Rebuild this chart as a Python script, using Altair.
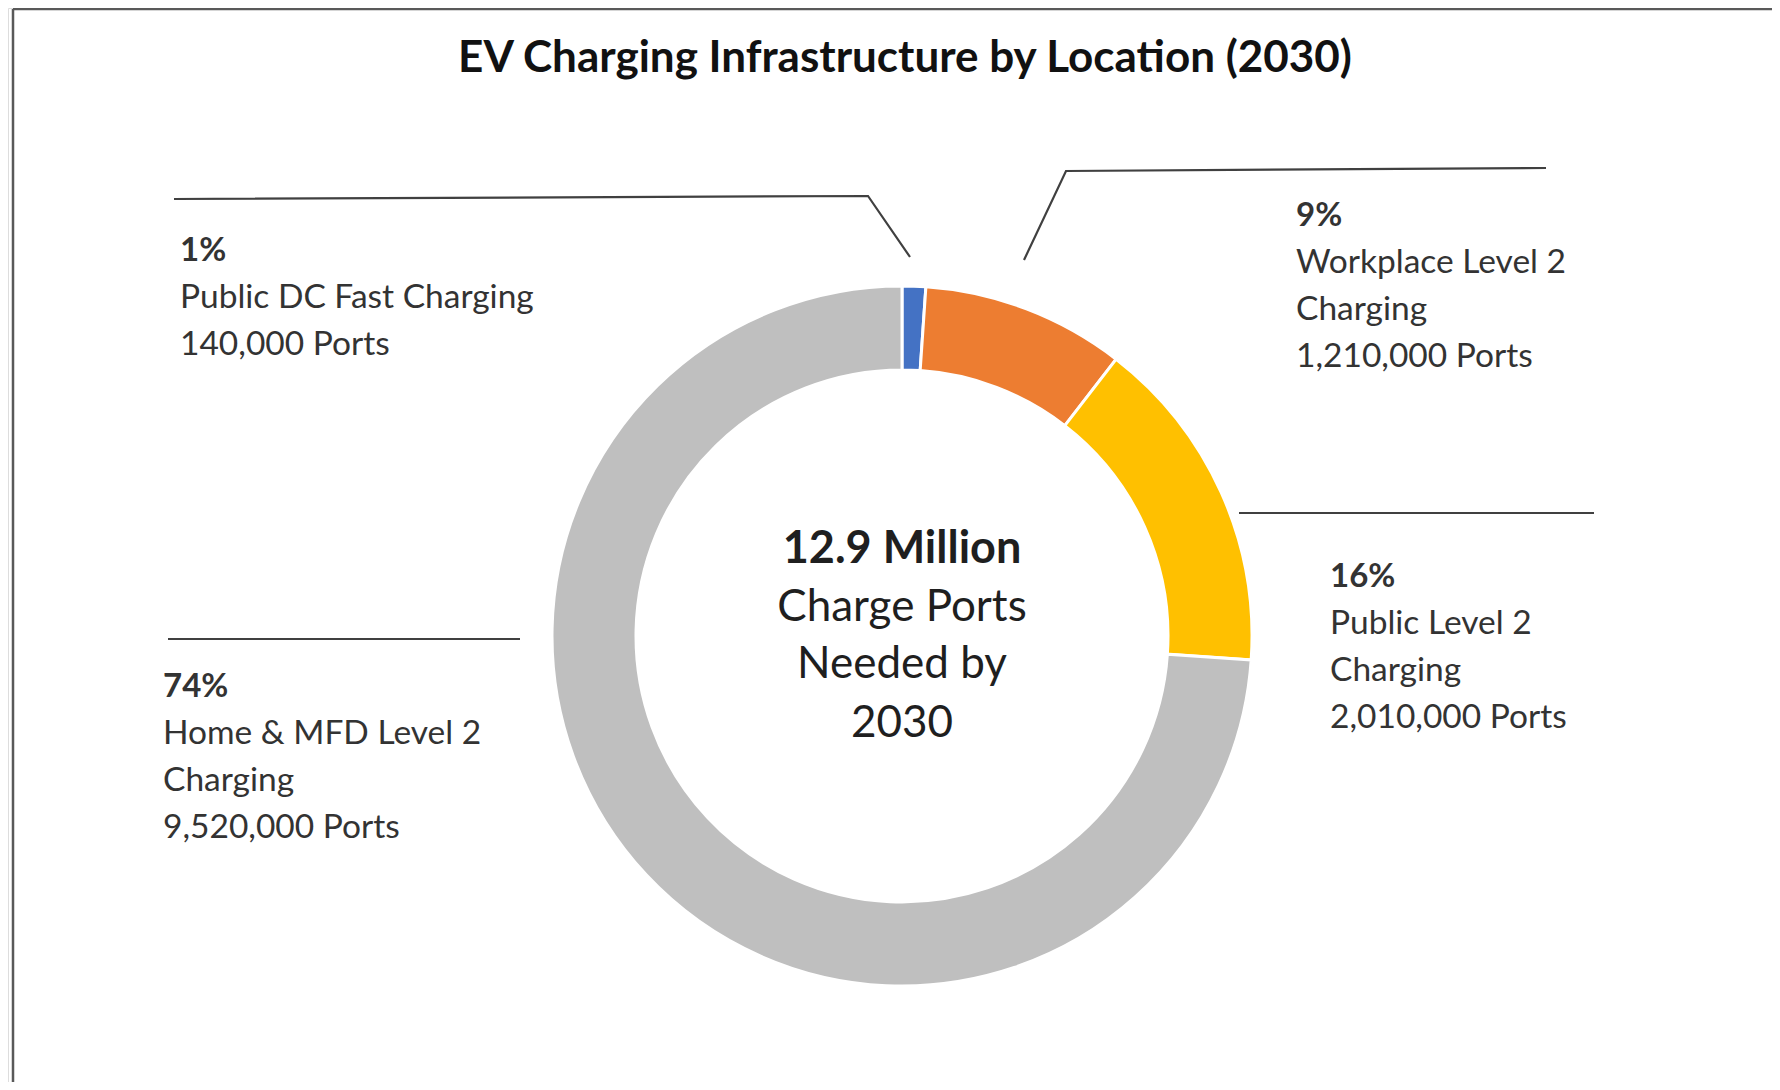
import altair as alt
import pandas as pd

# ---------------- data ----------------
categories = ["Public DC Fast Charging", "Workplace Level 2 Charging",
              "Public Level 2 Charging", "Home & MFD Level 2 Charging"]
ports = [140000, 1210000, 2010000, 9520000]
pct_labels = ["1%", "9%", "16%", "74%"]
label_names = [["Public DC Fast Charging"],
               ["Workplace Level 2", "Charging"],
               ["Public Level 2", "Charging"],
               ["Home & MFD Level 2", "Charging"]]
colors = ["#4472C4", "#ED7D31", "#FFC000", "#BFBFBF"]

title_text = "EV Charging Infrastructure by Location (2030)"
center_lines = ["Charge Ports", "Needed by", "2030"]

# ---------------- layout (page pixels) ----------------
W, H = 1764, 1074
center_xy = (902, 636)
inner_r, outer_r = 266, 350
label_x = [180, 1296, 1330, 163]
label_y = [251, 216, 577, 687]
line_gap = 47
leaders = [
    [(174, 199), (868, 196), (910, 257)],
    [(1024, 260), (1066, 171), (1546, 168)],
    [(1239, 513), (1594, 513)],
    [(168, 639), (520, 639)],
]
title_xy = (905, 59)
center_y = [549, 608, 665, 724]

FONT = "Lato"
TXT = "#333333"

xs = alt.Scale(domain=[8, 8 + W], range=[0, W])
ys = alt.Scale(domain=[8, 8 + H], range=[0, H])

# ---------------- tables ----------------
arc_df = pd.DataFrame({
    "cat": categories, "ports": ports, "order": list(range(4)),
    "cx": [center_xy[0]] * 4, "cy": [center_xy[1]] * 4,
})

leader_rows = []
for i, path in enumerate(leaders):
    for j, (px, py) in enumerate(path):
        leader_rows.append({"id": i, "k": j, "x": px, "y": py})
leader_df = pd.DataFrame(leader_rows)

bold_rows, norm_rows = [], []
for i in range(4):
    bold_rows.append({"x": label_x[i], "y": label_y[i], "t": pct_labels[i]})
    lines = label_names[i] + [f"{ports[i]:,} Ports"]
    for j, ln in enumerate(lines):
        norm_rows.append({"x": label_x[i], "y": label_y[i] + (j + 1) * line_gap, "t": ln})
bold_df = pd.DataFrame(bold_rows)
norm_df = pd.DataFrame(norm_rows)

total_m = sum(ports) / 1e6
center_bold_df = pd.DataFrame({"x": [center_xy[0]], "y": [center_y[0]],
                               "t": [f"{total_m:.1f} Million"]})
center_norm_df = pd.DataFrame({"x": [center_xy[0]] * 3, "y": center_y[1:],
                               "t": center_lines})
title_df = pd.DataFrame({"x": [title_xy[0]], "y": [title_xy[1]], "t": [title_text]})
frame_df = pd.DataFrame({"x": [13, 13], "y": [9, 9], "x2": [13, 8 + W], "y2": [8 + H, 9]})

# ---------------- marks ----------------
X = lambda f: alt.X(f, type="quantitative", scale=xs, axis=None)
Y = lambda f: alt.Y(f, type="quantitative", scale=ys, axis=None)

frame = alt.Chart(frame_df).mark_rule(color="#595959", strokeWidth=2.5).encode(
    x=X("x"), y=Y("y"), x2="x2", y2="y2")

donut = alt.Chart(arc_df).mark_arc(
    innerRadius=inner_r, outerRadius=outer_r, stroke="white", strokeWidth=3
).encode(
    theta=alt.Theta("ports:Q", stack=True),
    order=alt.Order("order:Q"),
    color=alt.Color("cat:N", scale=alt.Scale(domain=categories, range=colors), legend=None),
    x=X("cx"), y=Y("cy"),
)

lines = alt.Chart(leader_df).mark_line(color="#404040", strokeWidth=2.2).encode(
    x=X("x"), y=Y("y"), detail="id:N", order="k:Q")

pct = alt.Chart(bold_df).mark_text(
    font=FONT, fontSize=33, fontWeight="bold", color=TXT, align="left", baseline="middle"
).encode(x=X("x"), y=Y("y"), text="t:N")

lab = alt.Chart(norm_df).mark_text(
    font=FONT, fontSize=33.5, color=TXT, align="left", baseline="middle"
).encode(x=X("x"), y=Y("y"), text="t:N")

cb = alt.Chart(center_bold_df).mark_text(
    font=FONT, fontSize=45, fontWeight="bold", color="#1f1f1f", align="center", baseline="middle"
).encode(x=X("x"), y=Y("y"), text="t:N")

cn = alt.Chart(center_norm_df).mark_text(
    font=FONT, fontSize=44, color="#1f1f1f", align="center", baseline="middle"
).encode(x=X("x"), y=Y("y"), text="t:N")

title = alt.Chart(title_df).mark_text(
    font=FONT, fontSize=44, fontWeight="bold", color="#111111", align="center", baseline="middle"
).encode(x=X("x"), y=Y("y"), text="t:N")

chart = alt.layer(frame, donut, lines, pct, lab, cb, cn, title).properties(
    width=W, height=H, padding=0,
    autosize=alt.AutoSizeParams(type="none"),
).configure_view(stroke=None).configure(background="white")

chart.save("out.html", embed_options={"renderer": "svg", "actions": False})
